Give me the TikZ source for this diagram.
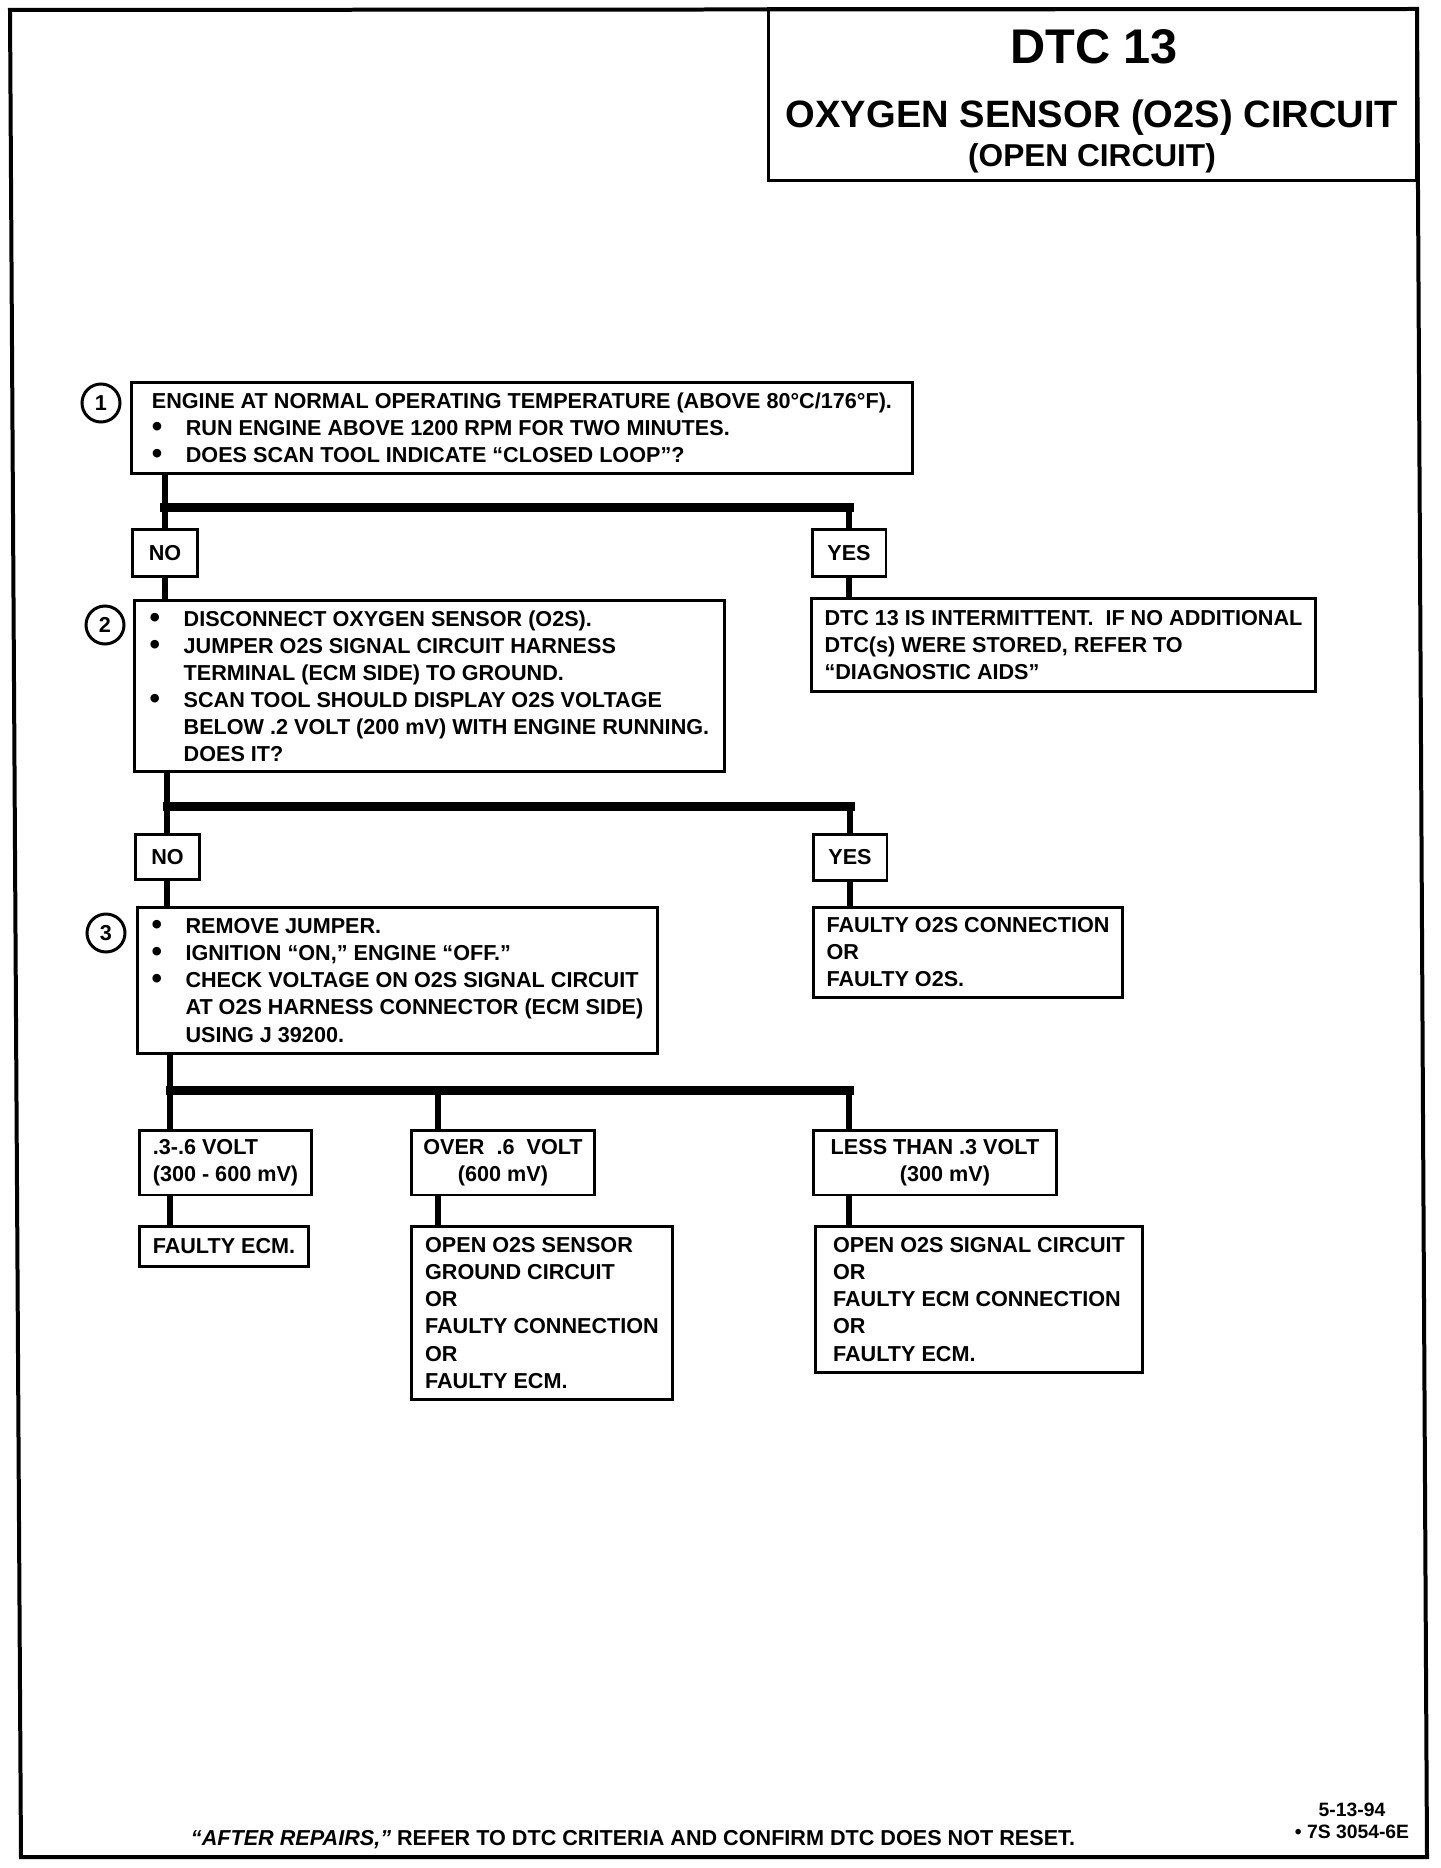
\documentclass[tikz,border=0pt]{standalone}
\usepackage{fontspec}
\setmainfont{Liberation Sans}
\usetikzlibrary{calc}

\newcommand{\bul}{\makebox[0.68cm][l]{\raisebox{-0.6pt}{\fontsize{17}{17}\selectfont\textbullet}}}
\newcommand{\ind}{\hspace*{0.68cm}}

\begin{document}
\begin{tikzpicture}[x=0.02cm,y=-0.02cm]
\tikzstyle{stepbox}=[draw,line width=0.06cm,inner sep=0pt,outer sep=0pt,anchor=north west,align=left,font={\fontsize{12.3}{15.4}\selectfont\bfseries}]
\tikzstyle{answer}=[stepbox,align=center]
\tikzstyle{conn}=[line width=0.12cm]
\tikzstyle{bus}=[line width=0.18cm,line cap=rect]
\tikzstyle{num}=[circle,draw,line width=0.06cm,minimum size=0.76cm,inner sep=0pt,font={\fontsize{12.3}{14}\selectfont\bfseries}]

\useasboundingbox (0,0) rectangle (1440,1868);

% FRAME (SCANNED PAGE, SLIGHTLY SKEWED)
\draw [line width=0.08cm,line join=miter] (10,10) -- (1417,9) -- (1427,1857) -- (21,1857) -- cycle;

% TITLE BLOCK
\node [stepbox,minimum width=12.98cm,minimum height=3.44cm] (T) at (768,9) {};
\node [font={\fontsize{27.7}{30}\selectfont\bfseries}] (dtc) at (1094,47) {DTC 13};
\node [font={\fontsize{21.7}{24}\selectfont\bfseries}] (ttl) at (1092,118) {OXYGEN SENSOR (O2S) CIRCUIT};
\node [font={\fontsize{18}{20}\selectfont\bfseries}] (sub) at (1092,158) {(OPEN CIRCUIT)};

% STEP 1
\node [stepbox,minimum width=15.64cm,minimum height=1.82cm] (S1) at (131,383) {ENGINE AT NORMAL OPERATING TEMPERATURE (ABOVE 80°C/176°F).\\
\bul RUN ENGINE ABOVE 1200 RPM FOR TWO MINUTES.\\
\bul DOES SCAN TOOL INDICATE “CLOSED LOOP”?};
\node [num] (N1) at (101,403) {1};

% ANSWERS TO STEP 1
\node [answer,minimum width=1.32cm,minimum height=0.96cm] (NO1) at (132,529) {NO};
\node [answer,minimum width=1.48cm,minimum height=0.96cm] (YES1) at (812,529) {YES};

% STEP 2
\node [stepbox,minimum width=11.82cm,minimum height=3.44cm] (S2) at (134,600) {\bul DISCONNECT OXYGEN SENSOR (O2S).\\
\bul JUMPER O2S SIGNAL CIRCUIT HARNESS\\
\ind TERMINAL (ECM SIDE) TO GROUND.\\
\bul SCAN TOOL SHOULD DISPLAY O2S VOLTAGE\\
\ind BELOW .2 VOLT (200 mV) WITH ENGINE RUNNING.\\
\ind DOES IT?};
\node [num] (N2) at (105,625) {2};
\node [stepbox,minimum width=10.10cm,minimum height=1.88cm] (R1) at (811,598) {DTC 13 IS INTERMITTENT.\ \ IF NO ADDITIONAL\\
DTC(s) WERE STORED, REFER TO\\
“DIAGNOSTIC AIDS”};

% ANSWERS TO STEP 2
\node [answer,minimum width=1.30cm,minimum height=0.92cm] (NO2) at (135,834) {NO};
\node [answer,minimum width=1.48cm,minimum height=0.94cm] (YES2) at (813,834) {YES};

% STEP 3
\node [stepbox,minimum width=10.42cm,minimum height=2.94cm] (S3) at (137,907) {\bul REMOVE JUMPER.\\
\bul IGNITION “ON,” ENGINE “OFF.”\\
\bul CHECK VOLTAGE ON O2S SIGNAL CIRCUIT\\
\ind AT O2S HARNESS CONNECTOR (ECM SIDE)\\
\ind USING J 39200.};
\node [num] (N3) at (106,933) {3};
\node [stepbox,minimum width=6.20cm,minimum height=1.82cm] (R2) at (813,907) {FAULTY O2S CONNECTION\\
OR\\
FAULTY O2S.};

% VOLTAGE READINGS
\node [stepbox,minimum width=3.46cm,minimum height=1.30cm] (VA) at (139,1130) {.3-.6 VOLT\\(300 - 600 mV)};
\node [answer,minimum width=3.68cm,minimum height=1.30cm] (VB) at (411,1130) {OVER\ \ .6\ \ VOLT\\(600 mV)};
\node [answer,minimum width=4.88cm,minimum height=1.30cm] (VC) at (813,1130) {LESS THAN .3 VOLT\\\hspace*{0.4cm}(300 mV)};

% RESULTS
\node [stepbox,minimum width=3.40cm,minimum height=0.80cm] (FA) at (139,1226) {FAULTY ECM.};
\node [stepbox,minimum width=5.24cm,minimum height=3.48cm] (FB) at (411,1226) {OPEN O2S SENSOR\\
GROUND CIRCUIT\\
OR\\
FAULTY CONNECTION\\
OR\\
FAULTY ECM.};
\node [stepbox,minimum width=6.56cm,minimum height=2.94cm] (FC) at (815,1226) {OPEN O2S SIGNAL CIRCUIT\\
OR\\
FAULTY ECM CONNECTION\\
OR\\
FAULTY ECM.};

% LINES FROM STEP 1
\path (NO1.north) ++(0,-22) coordinate (J1);
\draw [conn] (S1.south -| J1) -- (NO1.north);
\draw [bus] (J1) -- (J1 -| YES1.north);
\draw [conn] (J1 -| YES1.north) -- (YES1.north);
\draw [conn] (NO1.south) -- (NO1.south |- S2.north);
\draw [conn] (YES1.south) -- (YES1.south |- R1.north);

% LINES FROM STEP 2
\path (NO2.north) ++(0,-28) coordinate (J2);
\draw [conn] (S2.south -| J2) -- (NO2.north);
\draw [bus] (J2) -- (J2 -| YES2.north);
\draw [conn] (J2 -| YES2.north) -- (YES2.north);
\draw [conn] (NO2.south) -- (NO2.south |- S3.north);
\draw [conn] (YES2.south) -- (YES2.south |- R2.north);

% LINES FROM STEP 3
\coordinate (JA) at (170,1090);
\coordinate (JB) at (438,1090);
\coordinate (JC) at (849,1090);
\draw [conn] (S3.south -| JA) -- (JA);
\draw [bus] (JA) -- (JC);
\draw [conn] (JA) -- (JA |- VA.north);
\draw [conn] (JB) -- (JB |- VB.north);
\draw [conn] (JC) -- (JC |- VC.north);
\draw [conn] (JA |- VA.south) -- (JA |- FA.north);
\draw [conn] (JB |- VB.south) -- (JB |- FB.north);
\draw [conn] (JC |- VC.south) -- (JC |- FC.north);

% FOOTER
\node [font={\fontsize{12.3}{15}\selectfont\bfseries}] (foot) at (633,1840) {\textit{“AFTER REPAIRS,”} REFER TO DTC CRITERIA AND CONFIRM DTC DOES NOT RESET.};
\node [align=center,font={\fontsize{11}{12.5}\selectfont\bfseries}] (code) at (1352,1821) {5-13-94\\• 7S 3054-6E};

\end{tikzpicture}
\end{document}
